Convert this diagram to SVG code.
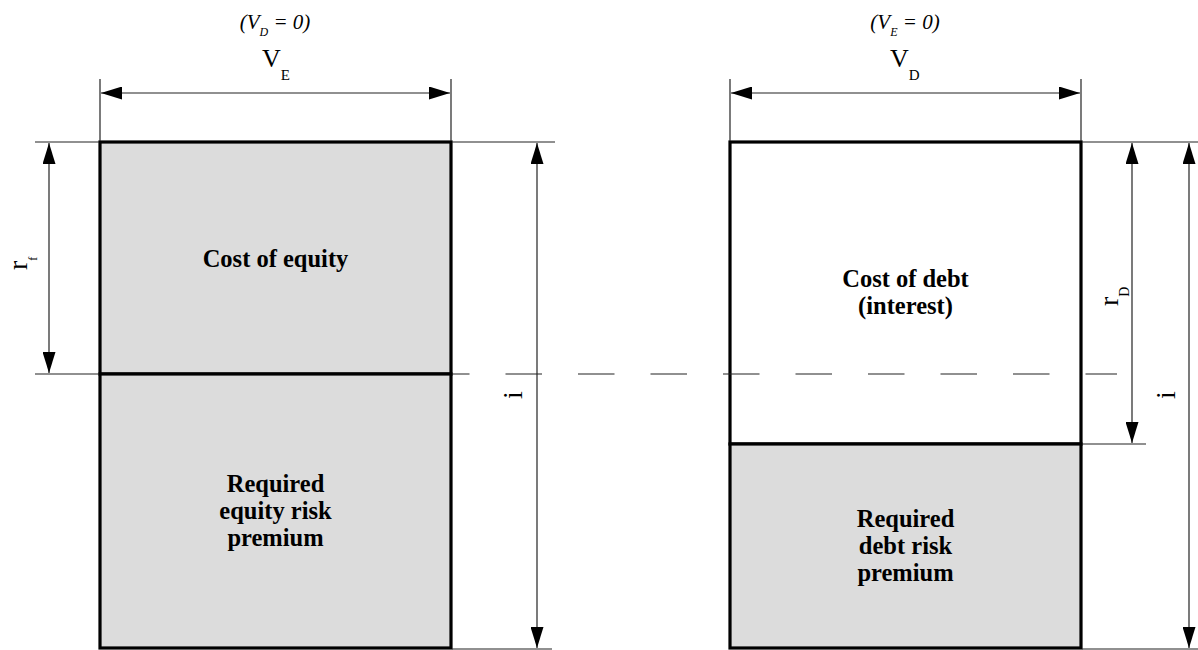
<svg xmlns="http://www.w3.org/2000/svg" width="1198" height="650" viewBox="0 0 1198 650">
<style>
.thin{stroke:#222;stroke-width:1.2;fill:none}
.box{stroke:#000;stroke-width:3.2}
.gray{fill:#dcdcdc}
.white{fill:#fff}
.lbl{font-family:"Liberation Serif","Times New Roman",serif;font-weight:bold;font-size:24.5px;fill:#000;text-anchor:middle}
.dim{font-family:"Liberation Serif","Times New Roman",serif;fill:#000}
.it{font-style:italic}
</style>
<defs>
<marker id="ah" viewBox="0 0 21 13" refX="21" refY="6.5" markerWidth="21" markerHeight="13" orient="auto-start-reverse" markerUnits="userSpaceOnUse">
<path d="M0,0 L21,6.5 L0,13 z" fill="#000"/>
</marker>
</defs>
<rect width="1198" height="650" fill="#fff"/>
<g id="equity-top">
<rect class="box gray" x="100" y="142" width="351" height="232"/>
<text class="lbl" x="275.5" y="267">Cost of equity</text>
</g>
<g id="equity-bottom">
<rect class="box gray" x="100" y="374" width="351" height="274"/>
<text class="lbl" x="275.5" y="492">Required</text>
<text class="lbl" x="275.5" y="519">equity risk</text>
<text class="lbl" x="275.5" y="546">premium</text>
</g>
<g id="debt-top">
<rect class="box white" x="730" y="142" width="351" height="302"/>
<text class="lbl" x="905.5" y="287">Cost of debt</text>
<text class="lbl" x="905.5" y="314">(interest)</text>
</g>
<g id="debt-bottom">
<rect class="box gray" x="730" y="444" width="351" height="204"/>
<text class="lbl" x="905.5" y="527">Required</text>
<text class="lbl" x="905.5" y="554">debt risk</text>
<text class="lbl" x="905.5" y="581">premium</text>
</g>
<g id="connectors">
<line class="thin" x1="452" y1="374" x2="1117" y2="374" stroke-dasharray="36.5 36" stroke-dashoffset="19"/>
<line class="thin" x1="100" y1="79" x2="100" y2="141"/>
<line class="thin" x1="451" y1="79" x2="451" y2="141"/>
<line class="thin" x1="730" y1="79" x2="730" y2="141"/>
<line class="thin" x1="1081" y1="79" x2="1081" y2="141"/>
<line class="thin" x1="35" y1="142" x2="99" y2="142"/>
<line class="thin" x1="452" y1="142" x2="555" y2="142"/>
<line class="thin" x1="1082" y1="142" x2="1198" y2="142"/>
<line class="thin" x1="35" y1="374" x2="99" y2="374"/>
<line class="thin" x1="452" y1="649" x2="552" y2="649"/>
<line class="thin" x1="1082" y1="649" x2="1198" y2="649"/>
<line class="thin" x1="1082" y1="444" x2="1146" y2="444"/>
<line class="thin" x1="101" y1="93" x2="450" y2="93" marker-start="url(#ah)" marker-end="url(#ah)"/>
<line class="thin" x1="731" y1="93" x2="1080" y2="93" marker-start="url(#ah)" marker-end="url(#ah)"/>
<line class="thin" x1="49" y1="143" x2="49" y2="373" marker-start="url(#ah)" marker-end="url(#ah)"/>
<line class="thin" x1="537" y1="143" x2="537" y2="648" marker-start="url(#ah)" marker-end="url(#ah)"/>
<line class="thin" x1="1132" y1="143" x2="1132" y2="443" marker-start="url(#ah)" marker-end="url(#ah)"/>
<line class="thin" x1="1189" y1="143" x2="1189" y2="648" marker-start="url(#ah)" marker-end="url(#ah)"/>
</g>
<g id="labels">
<text class="dim it" x="275" y="29" font-size="21" text-anchor="middle">(V<tspan font-size="12" dy="7">D</tspan><tspan dy="-7"> = 0)</tspan></text>
<text class="dim" x="262" y="67" font-size="26">V<tspan font-size="15" dy="13">E</tspan></text>
<text class="dim it" x="905" y="29" font-size="21" text-anchor="middle">(V<tspan font-size="12" dy="7">E</tspan><tspan dy="-7"> = 0)</tspan></text>
<text class="dim" x="890" y="67" font-size="26">V<tspan font-size="15" dy="13">D</tspan></text>
<text class="dim" font-size="28" transform="translate(27,270) rotate(-90)">r<tspan font-size="12" dy="10">f</tspan></text>
<text class="dim" font-size="28" transform="translate(1118,306) rotate(-90)">r<tspan font-size="14" dy="11">D</tspan></text>
<text class="dim" font-size="28" text-anchor="middle" transform="translate(522,395) rotate(-90)">i</text>
<text class="dim" font-size="28" text-anchor="middle" transform="translate(1175,395) rotate(-90)">i</text>
</g>
</svg>
